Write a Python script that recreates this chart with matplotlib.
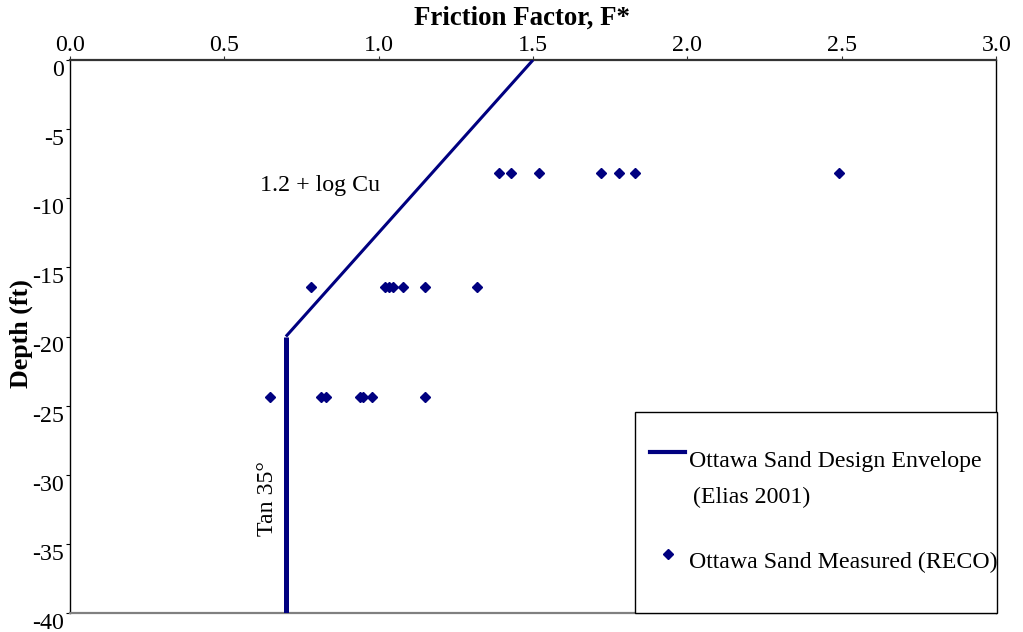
import matplotlib
matplotlib.use("Agg")
import matplotlib.pyplot as plt
import matplotlib.transforms as mtransforms
from matplotlib.lines import Line2D
from matplotlib.patches import Rectangle

plt.rcParams['font.family'] = ['Liberation Serif', 'DejaVu Serif']

# Design envelope (Elias 2001): 1.2 + log Cu at surface down to tan 35° at 20 ft
envelope_f = [1.5, 0.7, 0.7]
envelope_depth = [0, -20, -40]

# Measured friction factors (RECO), grouped by test depth
measured_f = [1.39, 1.43, 1.52, 1.72, 1.78, 1.83, 2.49,
              0.78, 1.02, 1.035, 1.048, 1.08, 1.15, 1.32,
              0.65, 0.815, 0.83, 0.94, 0.95, 0.98, 1.15]
measured_depth = [-8.2] * 7 + [-16.4] * 7 + [-24.4] * 7

x_ticks = [0.0, 0.5, 1.0, 1.5, 2.0, 2.5, 3.0]
y_ticks = [0, -5, -10, -15, -20, -25, -30, -35, -40]

navy = '#000080'
FS = 17.2
W, H = 1023, 632
fig = plt.figure(figsize=(W / 100, H / 100), dpi=100)
L, R, T, B = 69.7, 996.3, 60, 613
ax = fig.add_axes([L / W, 1 - B / H, (R - L) / W, (B - T) / H])

# envelope: sloped part and vertical part
ax.plot(envelope_f[:2], envelope_depth[:2], color=navy, lw=2.2,
        solid_capstyle='butt', zorder=3)
ax.plot(envelope_f[1:], envelope_depth[1:], color=navy, lw=3.6,
        solid_capstyle='butt', zorder=3)
ax.plot(measured_f, measured_depth, linestyle='none', marker='D',
        markersize=5.6, color=navy, zorder=4)

ax.set_xlim(0, 3.0)
ax.set_ylim(-40, 0)
ax.xaxis.tick_top()
ax.set_xticks(x_ticks)
ax.set_xticklabels([f'{v:.1f}' for v in x_ticks])
ax.set_yticks(y_ticks)
ax.set_yticklabels([f'{v:d}' for v in y_ticks])
ax.tick_params(axis='x', direction='out', length=3, pad=0, labelsize=FS,
               color='#333333')
ax.tick_params(axis='y', direction='out', length=3, pad=1, labelsize=FS)
shift = mtransforms.ScaledTranslation(0, -8 / 100, fig.dpi_scale_trans)
for lab in ax.get_yticklabels():
    lab.set_transform(lab.get_transform() + shift)

ax.spines['top'].set_color('#333333')
ax.spines['top'].set_linewidth(1.6)
ax.spines['bottom'].set_color('#808080')
ax.spines['bottom'].set_linewidth(1.6)
ax.spines['left'].set_color('black')
ax.spines['left'].set_linewidth(1.0)
ax.spines['right'].set_color('black')
ax.spines['right'].set_linewidth(1.0)

fig.text(522.5 / W, 1 - 18 / H, 'Friction Factor, F*', ha='center',
         va='center', fontsize=19.4, fontweight='bold')
fig.text(21 / W, 1 - 334 / H, 'Depth (ft)', ha='center', va='center',
         rotation=90, fontsize=18.6, fontweight='bold')

ax.text(0.81, -9.05, '1.2 + log Cu', ha='center', va='center', fontsize=FS)
ax.text(0.642, -31.7, 'Tan 35°', ha='center', va='center', rotation=90,
        fontsize=FS)

# legend box
def fx(px):
    return px / W

def fy(py):
    return 1 - py / H

fig.patches.append(Rectangle((fx(635), fy(613)), fx(997) - fx(635),
                             fy(412) - fy(613), transform=fig.transFigure,
                             facecolor='white', edgecolor='black', lw=1.0,
                             zorder=5))
fig.lines.append(Line2D([fx(650), fx(685)], [fy(452), fy(452)],
                        transform=fig.transFigure, color=navy, lw=3.0,
                        zorder=6))
fig.lines.append(Line2D([fx(668)], [fy(554)], transform=fig.transFigure,
                        color=navy, marker='D', markersize=5.6,
                        linestyle='none', zorder=6))
fig.text(fx(689), fy(461), 'Ottawa Sand Design Envelope', ha='left',
         va='center', fontsize=FS, zorder=7)
fig.text(fx(693), fy(497), '(Elias 2001)', ha='left', va='center',
         fontsize=FS, zorder=7)
fig.text(fx(689), fy(562), 'Ottawa Sand Measured (RECO)', ha='left',
         va='center', fontsize=FS, zorder=7)

fig.savefig('out.png', dpi=100, facecolor='white')
